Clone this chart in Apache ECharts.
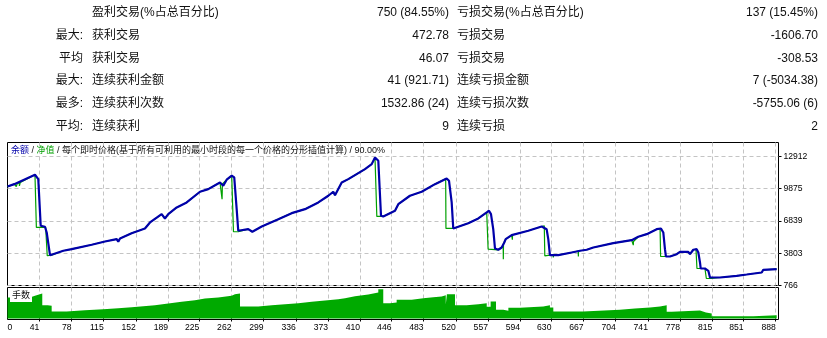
<!DOCTYPE html>
<html>
<head>
<meta charset="utf-8">
<title>余额 / 净值</title>
<script src="https://cdn.jsdelivr.net/npm/echarts@6/dist/echarts.min.js"></script>
<style>
    html, body { margin: 0; padding: 0; background: #fff; }
    #reportChart { width: 827px; height: 338px; }
</style>
</head>
<body>
<div id="reportChart"></div>
<script>
'use strict';

// 统计表
var statPrefix = ['', '最大:', '平均', '最大:', '最多:', '平均:'];
var statWinLabel = ['盈利交易(%占总百分比)', '获利交易', '获利交易', '连续获利金额', '连续获利次数', '连续获利'];
var statWinValue = ['750 (84.55%)', '472.78', '46.07', '41 (921.71)', '1532.86 (24)', '9'];
var statLossLabel = ['亏损交易(%占总百分比)', '亏损交易', '亏损交易', '连续亏损金额', '连续亏损次数', '连续亏损'];
var statLossValue = ['137 (15.45%)', '-1606.70', '-308.53', '7 (-5034.38)', '-5755.06 (6)', '2'];

// 刻度
var xTickLabels = [0, 41, 78, 115, 152, 189, 225, 262, 299, 336, 373, 410, 446, 483, 520, 557, 594, 630, 667, 704, 741, 778, 815, 851, 888];
var yTickLabels = [766, 3803, 6839, 9875, 12912];

// 余额 [交易序号, 金额]
var balance = [
    [4.4, 10060], [12.2, 10288], [36, 11172], [37.2, 11228], [39.8, 10758], [42.6, 6378], [47.5, 6284], [49.5, 5748],
    [53.3, 3614], [55.2, 3614], [68.6, 4028], [78.2, 4178], [101.2, 4592], [116.5, 4902], [130, 5118], [131.8, 4874],
    [133.8, 5184], [147.2, 5682], [162.5, 6124], [168.3, 6688], [181.7, 7468], [185.5, 7064], [189.3, 7468], [199, 8098],
    [210.5, 8568], [225.8, 9574], [235.3, 9818], [248.8, 10448], [250.7, 10608], [252.6, 10138], [256.5, 10702],
    [262.3, 11078], [265.2, 10918], [268, 7938], [269.8, 5908], [271.8, 5908], [281.3, 6058], [286, 5814], [296.8, 6312],
    [315.9, 7000], [331.3, 7562], [346.6, 7938], [361.9, 8568], [373.4, 9198], [379.1, 9574], [381.1, 9254], [388.8, 10448],
    [396.4, 10758], [415.6, 11698], [423.3, 12168], [427.1, 12798], [429, 12892], [430.9, 12488], [434, 7318], [436.6, 7252],
    [444.3, 7562], [450.1, 7788], [453.9, 8408], [467.3, 9198], [480.8, 9574], [496.1, 10288], [509.5, 10824], [512.2, 10608],
    [515.3, 8568], [517.1, 6124], [519.1, 6218], [534.4, 6622], [545.9, 7064], [555.6, 7628], [558.2, 7788], [560.5, 7468],
    [563.1, 6058], [565.1, 4244], [568.9, 4122], [572.8, 4338], [575.8, 4808], [577.4, 5118], [584.3, 5494], [603.4, 5908],
    [618.8, 6312], [620.6, 6378], [624.5, 6058], [626.4, 5118], [628.3, 3614], [637.9, 3614], [653.3, 3868], [662.9, 4028],
    [670.6, 4122], [678.2, 4338], [701.2, 4742], [722.3, 5024], [724.2, 4874], [729.9, 5344], [739.6, 5588], [751.1, 6058],
    [756, 6124], [758.7, 5748], [760.6, 4178], [761.7, 3492], [766.4, 3492], [774.1, 3708], [777.9, 3934], [787.4, 3934],
    [789.4, 3708], [793.2, 4122], [797.1, 4178], [799, 3868], [800.9, 2928], [801.7, 2364], [806.6, 2364], [810.5, 2148],
    [812.4, 1518], [814.4, 1424], [823.9, 1518], [843.1, 1678], [854.6, 1800], [871.9, 1988], [873.7, 2242], [889.1, 2298]
];

// 净值
var equity = [
    [4.4, 10060], [12.2, 10288], [14.4, 10330], [14.5, 10060], [15.5, 10060], [15.6, 10340], [18, 10420], [18.1, 10120],
    [19, 10120], [19.1, 10450], [36, 11172], [37, 11228], [37.6, 6218], [48.3, 6218], [50.1, 3558], [55.2, 3614],
    [68.6, 4028], [78.2, 4178], [101.2, 4592], [116.5, 4902], [130, 5118], [131.8, 4874], [133.8, 5184], [147.2, 5682],
    [162.5, 6124], [168.3, 6688], [181.7, 7468], [185.5, 7064], [189.3, 7468], [199, 8098], [210.5, 8568], [225.8, 9574],
    [235.3, 9818], [248.8, 10448], [250.7, 10608], [251.2, 8878], [251.6, 10300], [252.6, 10138], [256.5, 10702],
    [262.3, 11078], [264, 10950], [264.3, 5814], [269.8, 5814], [271.8, 5908], [281.3, 6058], [286, 5814], [296.8, 6312],
    [315.9, 7000], [331.3, 7562], [346.6, 7938], [361.9, 8568], [373.4, 9198], [379.1, 9574], [381.1, 9254], [388.8, 10448],
    [396.4, 10758], [415.6, 11698], [423.3, 12168], [427.1, 12798], [428.5, 12700], [429.2, 7252], [436.6, 7252],
    [444.3, 7562], [450.1, 7788], [453.9, 8408], [467.3, 9198], [480.8, 9574], [496.1, 10288], [508.4, 10780], [508.7, 6124],
    [517.1, 6124], [519.1, 6218], [534.4, 6622], [545.9, 7064], [555.6, 7628], [556.8, 7700], [557.2, 4178], [568.9, 4122],
    [572.8, 4338], [574.5, 4600], [574.7, 3238], [574.9, 4700], [575.8, 4808], [577.4, 5118], [584.3, 5494], [585, 5520],
    [585.1, 5062], [585.3, 5530], [603.4, 5908], [618.8, 6312], [621.8, 6378], [622.4, 3558], [628.3, 3614], [632, 3614],
    [632.2, 3398], [632.4, 3614], [637.9, 3614], [653.3, 3868], [660.8, 4000], [661, 3492], [661.2, 4010], [662.9, 4028],
    [670.6, 4122], [678.2, 4338], [701.2, 4742], [722.3, 5024], [724, 4990], [724.2, 4554], [724.4, 4900], [729.9, 5344],
    [739.6, 5588], [751.1, 6058], [755, 6110], [755.6, 3492], [766.4, 3492], [774.1, 3708], [777.9, 3934], [787.4, 3934],
    [789.4, 3708], [793.2, 4122], [796.3, 4170], [797.4, 2364], [806.6, 2364], [807.4, 2330], [808.2, 1424], [814.4, 1424],
    [823.9, 1518], [843.1, 1678], [854.6, 1800], [871.9, 1988], [873.7, 2242], [889.1, 2298]
];

// 手数
var lots = [
    [4.4, 2.1], [30.2, 2.27], [36, 2.43], [37.9, 2.5], [44.4, 1.33], [50.6, 1.27], [55.2, 0.7], [72.5, 0.83], [93.5, 0.93],
    [114.6, 1.03], [131.8, 1.13], [147.2, 1.23], [160.6, 1.33], [174, 1.5], [189.3, 1.67], [204.7, 1.83], [220, 2.0],
    [231.5, 2.1], [246.8, 2.27], [262.2, 2.43], [266, 2.5], [271.8, 1.2], [292.8, 1.33], [308.3, 1.43], [323.6, 1.53],
    [338.9, 1.67], [354.3, 1.8], [369.6, 1.93], [384.9, 2.03], [392.6, 2.23], [404.1, 2.4], [419.4, 2.6], [430.9, 2.93],
    [436.6, 1.53], [444.3, 1.6], [452, 1.87], [469.3, 2.03], [482.7, 2.13], [494.1, 2.2], [503.8, 2.33], [508.5, 1.4],
    [509.8, 2.43], [519.1, 1.33], [532.5, 1.43], [545.9, 1.53], [555.6, 1.17], [560.1, 1.7], [566.3, 0.87], [574.7, 0.77],
    [580.5, 1.07], [593.9, 1.2], [620.6, 1.33], [628.3, 1.1], [632.2, 0.7], [666.6, 0.87], [708.8, 1.0], [726.1, 1.1],
    [743.4, 1.2], [754.9, 1.33], [762.6, 0.67], [768.3, 0.8], [800.9, 0.6], [807.8, 0.5], [814.4, 0.23], [862.3, 0.33],
    [889.1, 0.33]
];

var FONT = "'Liberation Sans', 'Noto Sans CJK SC', sans-serif";
var xMin = 4.4, xMax = 891.2;
var dashed = { color: '#c4c4c4', width: 1, type: [4, 3] };

var reportChart = echarts.init(document.getElementById('reportChart'));

// 统计表文字
var tableText = [];
for (var i = 0; i < statPrefix.length; i++) {
    var y = 12.5 + i * 22.85;
    var cells = [
        [83, statPrefix[i], 'right'],
        [92, statWinLabel[i], 'left'],
        [449, statWinValue[i], 'right'],
        [457, statLossLabel[i], 'left'],
        [818, statLossValue[i], 'right']
    ];
    cells.forEach(function (c) {
        tableText.push({
            type: 'text', x: c[0], y: y,
            style: { text: c[1], fontSize: 12, fontFamily: FONT, fill: '#111', align: c[2], verticalAlign: 'middle' }
        });
    });
}

var option = {
    animation: false,
    backgroundColor: '#fff',
    title: [{
        text: '{b|余额} / {g|净值} / 每个即时价格(基于所有可利用的最小时段的每一个价格的分形插值计算) / 90.00%',
        left: 9, top: 144, padding: [1, 2],
        textStyle: {
            fontSize: 9, fontWeight: 'normal', color: '#111', fontFamily: FONT, lineHeight: 11,
            rich: {
                b: { color: '#0000aa', fontSize: 9, fontFamily: FONT, lineHeight: 11 },
                g: { color: '#00a000', fontSize: 9, fontFamily: FONT, lineHeight: 11 }
            }
        }
    }, {
        text: '手数',
        left: 10, top: 289, padding: [1, 2],
        backgroundColor: '#fff',
        textStyle: { fontSize: 9, fontWeight: 'normal', color: '#111', fontFamily: FONT, lineHeight: 11 }
    }],
    graphic: tableText,
    grid: [
        { left: 7.5, top: 142.5, width: 771, height: 143, show: true, borderColor: '#000', borderWidth: 1, backgroundColor: '#fff' },
        { left: 7.5, top: 287.5, width: 771, height: 32, show: true, borderColor: '#000', borderWidth: 1, backgroundColor: '#fff' }
    ],
    xAxis: [{
        gridIndex: 0, type: 'value', min: xMin, max: xMax,
        axisLine: { show: false },
        axisTick: { show: false, customValues: xTickLabels.slice(1) },
        axisLabel: { show: false },
        splitLine: { show: true, lineStyle: dashed }
    }, {
        gridIndex: 1, type: 'value', min: xMin, max: xMax,
        axisLine: { show: false },
        axisTick: { show: true, length: 3, lineStyle: { color: '#000' }, customValues: xTickLabels.slice(1) },
        axisLabel: {
            show: true, margin: 4, align: 'right', color: '#000', fontSize: 8.6, fontFamily: FONT,
            customValues: [9.9].concat(xTickLabels.slice(1)),
            formatter: function (v) { return v < 20 ? String(xTickLabels[0]) : String(v); }
        },
        splitLine: { show: true, lineStyle: dashed }
    }],
    yAxis: [{
        gridIndex: 0, type: 'value', position: 'right', min: 766, max: 14200,
        axisLine: { show: false },
        axisTick: { show: true, length: 3, lineStyle: { color: '#000' }, customValues: yTickLabels },
        axisLabel: {
            show: true, margin: 5, color: '#000', fontSize: 8.6, fontFamily: FONT, customValues: yTickLabels,
            formatter: function (v) { return String(v); }
        },
        splitLine: { show: true, lineStyle: dashed }
    }, {
        gridIndex: 1, type: 'value', min: -0.1, max: 3.1,
        axisLine: { show: false },
        axisTick: { show: false },
        axisLabel: { show: false },
        splitLine: { show: false }
    }],
    series: [{
        name: '净值',
        type: 'line',
        xAxisIndex: 0, yAxisIndex: 0,
        data: equity,
        showSymbol: false,
        lineStyle: { color: '#00a000', width: 1.2 },
        z: 2
    }, {
        name: '余额',
        type: 'line',
        xAxisIndex: 0, yAxisIndex: 0,
        data: balance,
        showSymbol: false,
        lineStyle: { color: '#0000aa', width: 2.2 },
        z: 3
    }, {
        name: '手数',
        type: 'line',
        xAxisIndex: 1, yAxisIndex: 1,
        data: lots,
        step: 'end',
        showSymbol: false,
        lineStyle: { width: 0 },
        areaStyle: { color: '#00aa00', opacity: 1 },
        z: 2
    }]
};

reportChart.setOption(option);
</script>
</body>
</html>
